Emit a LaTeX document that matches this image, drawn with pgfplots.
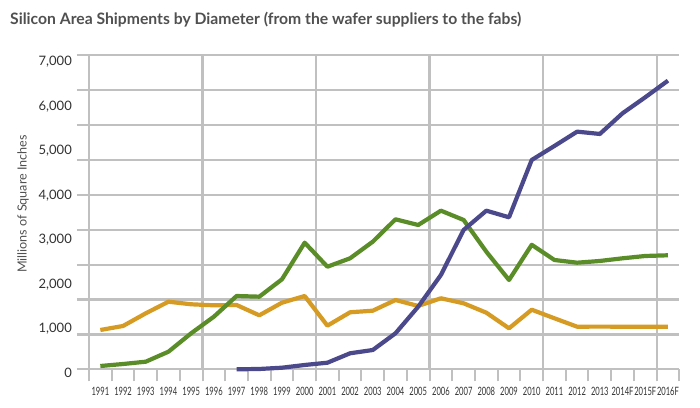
\documentclass[border=0pt]{standalone}
\usepackage{pgfplots}
\pgfplotsset{compat=1.18}
\usepackage{fontspec}
\setmainfont{Lato}
\definecolor{gridgray}{RGB}{192,192,192}
\definecolor{ppl}{RGB}{75,72,140}
\definecolor{grn}{RGB}{90,140,40}
\definecolor{org}{RGB}{214,155,35}
\definecolor{txt}{RGB}{80,80,80}
\definecolor{lbl}{RGB}{50,50,50}
\newcommand{\xl}[1]{\scalebox{0.66}[1]{#1}}
\pgfplotstableread{
x y
0 884
1 974
2 1259
3 1520
4 1462
5 1439
6 1446
7 1214
8 1498
9 1648
10 981
11 1282
12 1318
13 1558
14 1424
15 1597
16 1484
17 1273
18 922
19 1340
20 1147
21 958
22 960
23 958
24 958
25 958
}\orangedata
\pgfplotstableread{
x y
0 74
1 119
2 171
3 396
4 810
5 1183
6 1648
7 1633
8 2024
9 2847
10 2307
11 2496
12 2870
13 3373
14 3245
15 3567
16 3358
17 2645
18 2008
19 2800
20 2458
21 2397
22 2436
23 2496
24 2548
25 2564
}\greendata
\pgfplotstableread{
x y
6 0
7 7
8 36
9 97
10 148
11 360
12 434
13 810
14 1408
15 2121
16 3133
17 3567
18 3418
19 4707
20 5022
21 5344
22 5292
23 5757
24 6117
25 6491
}\purpledata
\begin{document}
\begin{tikzpicture}
\useasboundingbox (0,0) rectangle (700bp,408bp);
\node[anchor=base west, inner sep=0, text=txt] at (10bp,383bp) {\resizebox{511bp}{!}{\bfseries Silicon Area Shipments by Diameter (from the wafer suppliers to the fabs)}};
\node[rotate=90, inner sep=0, text=txt] at (23bp,204bp) {\resizebox{138bp}{!}{Millions of Square Inches}};
\begin{axis}[
  at={(89bp,38.7bp)}, anchor=south west,
  scale only axis, width=590.3bp, height=314bp,
  xmin=-0.5, xmax=25.5, ymin=0, ymax=7061,
  axis line style={draw=none},
  tick align=outside,
  xtick pos=bottom, ytick pos=left,
  xtick={-0.5,4.5,...,24.5}, xticklabels={},
  minor xtick={0.5,1.5,...,25.5},
  xmajorgrids, ymajorgrids,
  x tick style={draw=gridgray, line width=2bp},
  major tick length=12bp, minor tick length=12bp,
  grid style={gridgray, line width=2.2bp},
  ytick={0,784.56,1569.11,2353.67,3138.22,3922.78,4707.33,5491.89,6276.44,7061}, yticklabels={},
  y tick style={draw=gridgray, line width=2.2bp},
  extra x ticks={0,...,25},
  extra x tick labels={\xl{1991},\xl{1992},\xl{1993},\xl{1994},\xl{1995},\xl{1996},\xl{1997},\xl{1998},\xl{1999},\xl{2000},\xl{2001},\xl{2002},\xl{2003},\xl{2004},\xl{2005},\xl{2006},\xl{2007},\xl{2008},\xl{2009},\xl{2010},\xl{2011},\xl{2012},\xl{2013},\xl{2014F},\xl{2015F},\xl{2016F}},
  extra x tick style={major tick length=0pt, xmajorgrids=false},
  xticklabel style={font=\fontsize{11.5bp}{13bp}\selectfont, text=lbl, anchor=base, inner sep=0pt, yshift=-26bp},
  extra y ticks={0,1000,...,7000},
  extra y tick labels={0,{1,000},{2,000},{3,000},{4,000},{5,000},{6,000},{7,000}},
  extra y tick style={major tick length=0pt, ymajorgrids=false},
  yticklabel style={font=\fontsize{13bp}{15bp}\selectfont, text=lbl, anchor=east, inner sep=0pt, xshift=-17bp, yshift=-4bp},
  clip=false,
]
\addplot[org, line width=4.2bp, line join=round] table[x=x,y=y] {\orangedata};
\addplot[grn, line width=4.2bp, line join=round] table[x=x,y=y] {\greendata};
\addplot[ppl, line width=4.2bp, line join=round] table[x=x,y=y] {\purpledata};
\end{axis}
\end{tikzpicture}
\end{document}
